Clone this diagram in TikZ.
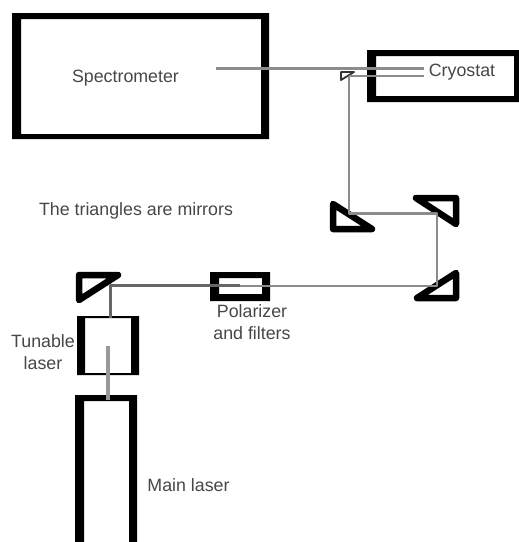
\documentclass[tikz,border=0pt]{standalone}
\usepackage{fontspec}
\setmainfont{Liberation Sans}
\tikzset{
  wall/.style={fill=black,even odd rule,draw=none},
  mirror/.style={draw=black,line width=6.5pt,line join=round,fill=white},
  smallmirror/.style={draw=black!80,line width=1.8pt,line join=round,fill=white},
  beam/.style={draw=black!45,line width=2.6pt},
  darkbeam/.style={draw=black!60,line width=3pt},
  thickbeam/.style={draw=black!40,line width=4.5pt},
  label/.style={text=black!72,font=\fontsize{17.8}{22}\selectfont,align=center,inner sep=0pt},
}
\begin{document}
\begin{tikzpicture}[x=1pt,y=-1pt]
\useasboundingbox (0,0) rectangle (519,542);
\fill[white] (0,0) rectangle (519,542);
% boxes
\path[wall] (12,13) rectangle (269,139) (21,19) rectangle (261,134);
\path[wall] (367,50) rectangle (519,102) (376,56) rectangle (514,96);
\path[wall] (77,316) rectangle (139,375) (85,318) rectangle (131,373);
\path[wall] (75,395) rectangle (137,542) (84,401) rectangle (129,543);
\path[wall] (210,272) rectangle (270,301) (219,278) rectangle (262,294);
% mirrors
\draw[mirror] (79,275) -- (118,275) -- (79,300) -- cycle;
\draw[mirror] (333,204) -- (372,229) -- (333,229) -- cycle;
\draw[mirror] (416,198) -- (456,198) -- (456,224) -- cycle;
\draw[mirror] (456,273) -- (456,298) -- (417,298) -- cycle;
\draw[smallmirror] (341,72) -- (354,72) -- (341,80) -- cycle;
% beam points
\coordinate (specin) at (216,68.5);
\coordinate (cryoA) at (424,68.5);
\coordinate (cryoB) at (424,76);
\coordinate (m0) at (349,76);
\coordinate (m2) at (349,213.5);
\coordinate (m3) at (437,213.5);
\coordinate (m4) at (437,286);
\coordinate (pol) at (240,286);
\coordinate (pol2) at (240,285);
\coordinate (m1) at (110,285);
\coordinate (tun) at (110,318);
\coordinate (tunin) at (108,346);
\coordinate (mainout) at (108,400);
% beams
\draw[beam] (specin) -- (cryoA);
\draw[beam] (m0) -- (cryoB);
\draw[beam,line join=round] (m0) -- (m2) -- (m3) -- (m4) -- (pol);
\draw[darkbeam,line join=round] (pol2) -- (m1) -- (tun);
\draw[thickbeam] (tunin) -- (mainout);
% labels
\node[label] (spec) at (125.5,78) {Spectrometer};
\node[label] (cryo) at (462,72) {Cryostat};
\node[label] (tri) at (136,211) {The triangles are mirrors};
\node[label] (polf) at (252,322) {Polarizer\\and filters};
\node[label] (tl) at (43,352) {Tunable\\laser};
\node[label] (ml) at (188.5,485) {Main laser};
\end{tikzpicture}
\end{document}
